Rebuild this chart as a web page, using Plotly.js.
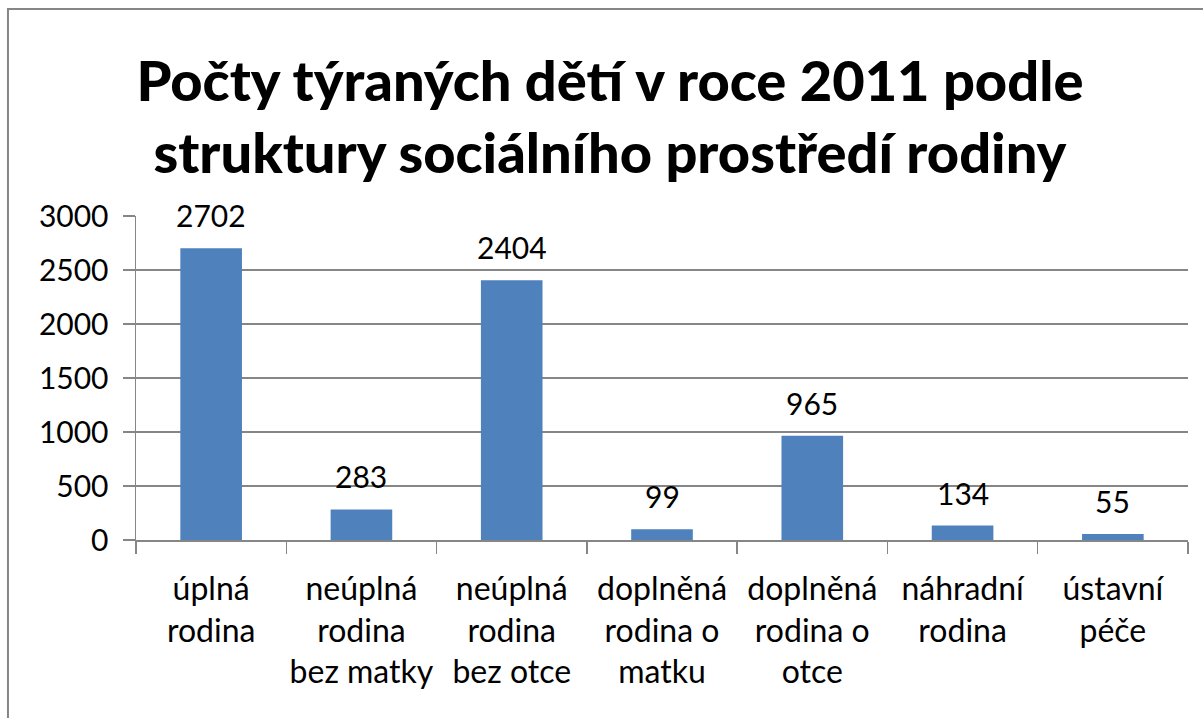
<!DOCTYPE html>
<html>
<head>
<meta charset="utf-8">
<script src="https://cdn.plot.ly/plotly-3.0.1.min.js"></script>
<style>
  html, body { margin: 0; padding: 0; background: #ffffff; }
  #chart { width: 1203px; height: 718px; }
</style>
</head>
<body>
<div id="chart"></div>
<script>
const titleText = "Počty týraných dětí v roce 2011 podle<br>struktury sociálního prostředí rodiny";
const categories = [
  "úplná<br>rodina",
  "neúplná<br>rodina<br>bez matky",
  "neúplná<br>rodina<br>bez otce",
  "doplněná<br>rodina o<br>matku",
  "doplněná<br>rodina o<br>otce",
  "náhradní<br>rodina",
  "ústavní<br>péče"
];
const values = [2702, 283, 2404, 99, 965, 134, 55];
const yTicks = [0, 500, 1000, 1500, 2000, 2500, 3000];

const FONT = "Lato, 'Open Sans', sans-serif";
const GRID = "#868686";

const trace = {
  type: "bar",
  x: categories,
  y: values,
  marker: { color: "#4f81bd", line: { width: 0 } },
  hoverinfo: "x+y"
};

const annotations = categories.map((c, i) => ({
  x: c, y: values[i], xref: "x", yref: "y",
  text: String(values[i]),
  showarrow: false,
  yanchor: "bottom",
  yshift: 13,
  font: { family: FONT, size: 30, color: "#000000" }
}));

const layout = {
  width: 1203,
  height: 718,
  margin: { l: 136, r: 15, t: 216, b: 178 },
  paper_bgcolor: "#ffffff",
  plot_bgcolor: "#ffffff",
  showlegend: false,
  bargap: 0.59,
  title: {
    text: titleText,
    x: 0.507,
    xanchor: "center",
    y: 0.86,
    yanchor: "middle",
    font: { family: FONT, size: 56, color: "#000000", weight: 900 }
  },
  xaxis: {
    type: "category",
    tickson: "boundaries",
    ticks: "outside",
    ticklen: 12,
    tickcolor: GRID,
    tickwidth: 1.5,
    showline: true,
    linecolor: GRID,
    linewidth: 1.5,
    showgrid: false,
    ticklabelstandoff: 20,
    tickfont: { family: FONT, size: 32, color: "#000000" },
    tickangle: 0,
    fixedrange: true
  },
  yaxis: {
    range: [0, 3000],
    tickvals: yTicks,
    ticks: "outside",
    ticklen: 12,
    tickcolor: GRID,
    tickwidth: 1.5,
    showline: true,
    linecolor: GRID,
    linewidth: 1.5,
    showgrid: true,
    gridcolor: GRID,
    gridwidth: 1.5,
    zeroline: false,
    ticklabelstandoff: 8,
    tickfont: { family: FONT, size: 30, color: "#000000" },
    fixedrange: true
  },
  annotations: annotations,
  shapes: [{
    type: "rect",
    xref: "paper", yref: "paper",
    x0: -0.1217, x1: 1.03,
    y0: -0.6, y1: 1.639,
    line: { color: GRID, width: 2 },
    fillcolor: "rgba(0,0,0,0)",
    layer: "below"
  }]
};

Plotly.newPlot("chart", [trace], layout, { displayModeBar: false, staticPlot: true });
</script>
</body>
</html>
